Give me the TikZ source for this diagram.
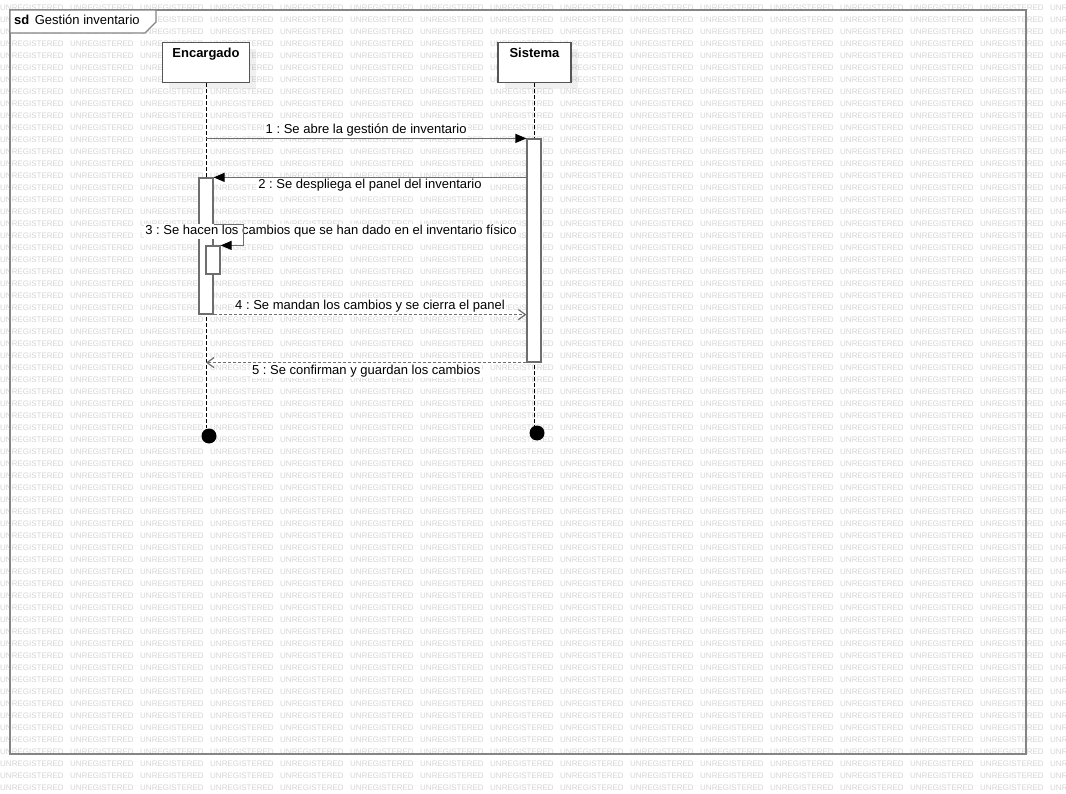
\documentclass[tikz,border=0pt]{standalone}
\usepackage{fontspec}
\setmainfont{Liberation Sans}
\frenchspacing
\usetikzlibrary{arrows.meta,positioning}
\definecolor{framegray}{HTML}{858585}
\definecolor{linegray}{HTML}{6E6E6E}
\definecolor{boxgray}{HTML}{555555}
\definecolor{wmgray}{HTML}{D4D4D4}
\tikzset{
	wm/.style={text=wmgray,font=\fontsize{8}{8}\selectfont,inner sep=0pt,anchor=west},
	lifebox/.style={draw=boxgray,line width=1.1pt,fill=white,anchor=north,font=\fontsize{13}{15}\selectfont\bfseries,text height=11pt,text depth=21pt,inner sep=4pt},
	lifeline/.style={line width=0.9pt,dash pattern=on 4pt off 2pt},
	actbox/.style={draw=linegray,line width=1.2pt,fill=white,minimum width=14pt,inner sep=0pt},
	msg/.style={draw=linegray,line width=1.2pt,-{Triangle[length=11pt,width=9pt,black]}},
	reply/.style={draw=linegray,line width=1.2pt,dash pattern=on 3pt off 2pt,-{Straight Barb[length=7pt,width=10pt,linegray]}},
	lbl/.style={font=\fontsize{13}{15}\selectfont,text=black,fill=white,inner sep=1.5pt},
	endpt/.style={circle,fill=black,minimum size=15pt,inner sep=0pt},
}
\begin{document}
\begin{tikzpicture}[x=1pt,y=-1pt]
	\useasboundingbox (0,0) rectangle (1066,794);
	\begin{scope}
		\clip (0,0) rectangle (1066,794);
		\foreach \r in {0,...,65}
			\foreach \c in {0,...,15}
				\node[wm] at (70*\c,8+12*\r) {UNREGISTERED};
	\end{scope}
	\draw[framegray,line width=1.4pt] (10,10) rectangle (1026,754);
	\draw[framegray,line width=1.4pt,fill=white] (10,10) -- (156,10) -- (156,22) -- (145,33) -- (10,33) -- cycle;
	\node[font=\fontsize{13}{15}\selectfont,inner sep=0pt,anchor=west] (title) at (14,20) {\textbf{sd}\hspace{5.5pt}Gestión inventario};
	\fill[black,opacity=0.06] (169,49) rectangle (256,89);
	\fill[black,opacity=0.06] (505,49) rectangle (578,89);
	\node[lifebox,minimum width=87pt] (enc) at (206,42) {Encargado};
	\node[lifebox,minimum width=73pt] (sis) at (534.5,42) {Sistema};
	\node[endpt] (encEnd) at (209,436) {};
	\node[endpt] (sisEnd) at (537,433) {};
	\draw[lifeline] (enc.south) -- (enc.south |- encEnd.north);
	\draw[lifeline] (sis.south) -- (sis.south |- sisEnd.north);
	\node[actbox,minimum height=223pt] (sisAct) at (534,250.5) {};
	\node[actbox,minimum height=136pt] (encAct) at (206,246) {};
	\node[actbox,minimum height=28pt] (selfAct) at (213,260) {};
	\draw[msg] (enc.south |- sisAct.north) -- (sisAct.north west) node[lbl,midway,above] {1 : Se abre la gestión de inventario};
	\draw[msg] (encAct.north east -| sisAct.west) -- (encAct.north east) node[lbl,midway,below] {2 : Se despliega el panel del inventario};
	\node[lbl] (m3) at (331,231.5) {3 : Se hacen los cambios que se han dado en el inventario físico};
	\draw[msg] ([yshift=-47pt]encAct.north east) -- ++(30,0) |- (selfAct.north east);
	\draw[reply] (encAct.south east) -- (encAct.south east -| sisAct.west) node[lbl,midway,above] {4 : Se mandan los cambios y se cierra el panel};
	\draw[reply] (sisAct.south west) -- (sisAct.south west -| enc.south) node[lbl,midway,below] {5 : Se confirman y guardan los cambios};
\end{tikzpicture}
\end{document}
